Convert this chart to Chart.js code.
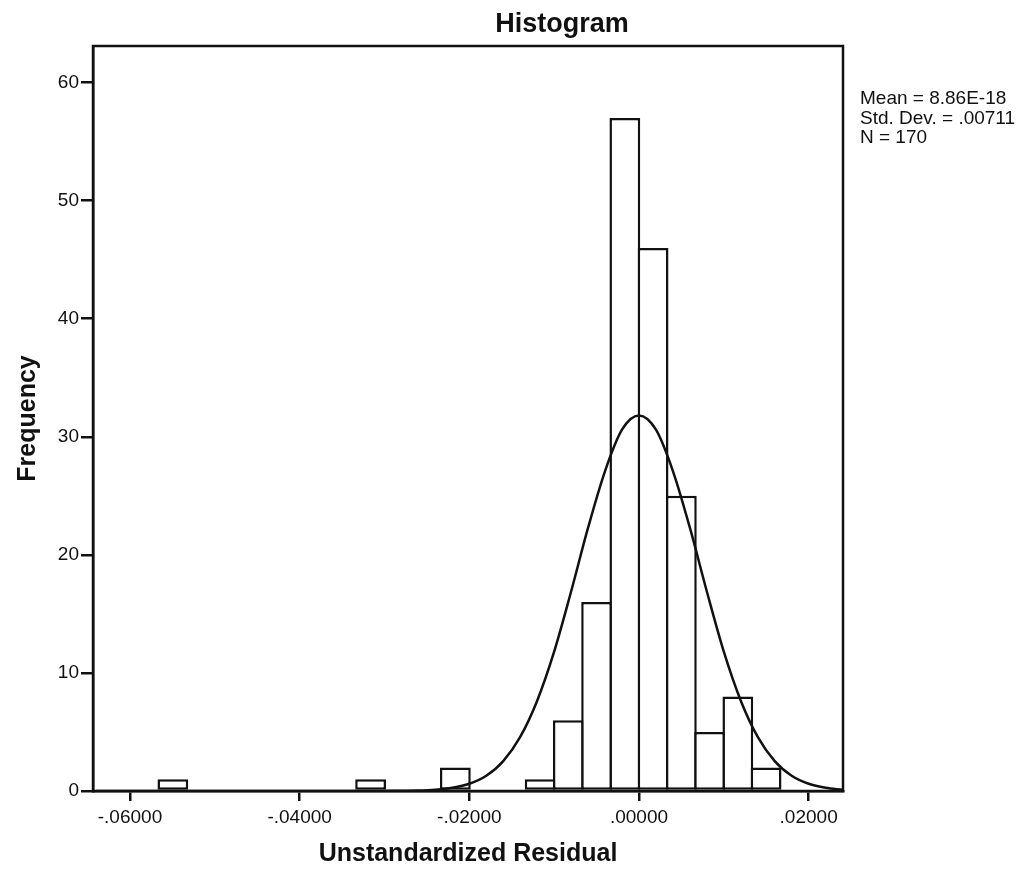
<!DOCTYPE html>
<html>
<head>
<meta charset="utf-8">
<title>Histogram</title>
<script src="https://cdn.jsdelivr.net/npm/chart.js@4.4.1/dist/chart.umd.min.js"></script>
<style>
  html, body { margin: 0; padding: 0; background: #fff; }
  canvas { display: block; }
</style>
</head>
<body>
<canvas id="histChart" width="1027" height="875"></canvas>
<script>
// datos
const binWidth = 0.00333;
const binStarts = [-0.05661, -0.03330, -0.02331, -0.01332, -0.00999, -0.00666, -0.00333, 0.00000, 0.00333, 0.00666, 0.00999, 0.01332];
const counts = [1, 1, 2, 1, 6, 16, 57, 46, 25, 5, 8, 2];

// curva normal (valores estimados de la imagen)
const curveX = [-0.064, -0.040, -0.030, -0.026, -0.024, -0.022, -0.020, -0.018, -0.016, -0.014, -0.012, -0.010, -0.008, -0.006, -0.004, -0.002, 0, 0.002, 0.004, 0.006, 0.008, 0.010, 0.012, 0.014, 0.016, 0.018, 0.020, 0.022, 0.024];
const curveY = [0, 0, 0.01, 0.04, 0.11, 0.27, 0.61, 1.29, 2.53, 4.58, 7.65, 11.8, 16.9, 22.3, 27.1, 30.6, 31.8, 30.6, 27.1, 22.3, 16.9, 11.8, 7.65, 4.58, 2.53, 1.29, 0.61, 0.27, 0.11];

const xTicks = [-0.06, -0.04, -0.02, 0, 0.02];
const yTicks = [0, 10, 20, 30, 40, 50, 60];
const statsLines = ['Mean = 8.86E-18', 'Std. Dev. = .00711', 'N = 170'];

const INK = '#111';
Chart.defaults.font.family = '"Liberation Sans", Arial, sans-serif';
Chart.defaults.color = INK;

// marco, titulo y estadisticos
const extras = {
    id: 'extras',
    afterDraw(chart) {
        const { ctx, chartArea: a } = chart;
        ctx.save();
        ctx.strokeStyle = INK;
        ctx.lineWidth = 2.5;
        ctx.strokeRect(a.left, a.top, a.right - a.left, a.bottom - a.top);

        ctx.fillStyle = INK;
        ctx.textAlign = 'center';
        ctx.textBaseline = 'middle';
        ctx.font = 'bold 27px "Liberation Sans", Arial, sans-serif';
        ctx.fillText('Histogram', 562, 25);

        ctx.textAlign = 'left';
        ctx.font = '19px "Liberation Sans", Arial, sans-serif';
        statsLines.forEach((t, i) => ctx.fillText(t, 860, 99 + i * 19.5));
        ctx.restore();
    }
};

const ctx = document.getElementById('histChart').getContext('2d');

new Chart(ctx, {
    type: 'bar',
    data: {
        datasets: [
            {
                type: 'line',
                data: curveX.map((x, i) => ({ x: x, y: curveY[i] })),
                borderColor: INK,
                borderWidth: 2.5,
                pointRadius: 0,
                fill: false,
                cubicInterpolationMode: 'monotone',
                order: 0
            },
            {
                type: 'bar',
                data: binStarts.map((s, i) => ({ x: s + binWidth / 2, y: counts[i] })),
                backgroundColor: '#fff',
                borderColor: INK,
                borderWidth: 2.5,
                borderSkipped: false,
                // un poco mas ancho para que las barras vecinas compartan borde
                barPercentage: 1.09,
                categoryPercentage: 1,
                order: 1
            }
        ]
    },
    options: {
        responsive: false,
        animation: false,
        layout: { padding: { left: 0, right: 184, top: 46, bottom: 0 } },
        plugins: {
            legend: { display: false },
            tooltip: { enabled: false }
        },
        scales: {
            x: {
                type: 'linear',
                offset: false,
                min: -0.06436,
                max: 0.02405,
                afterBuildTicks: (scale) => { scale.ticks = xTicks.map(v => ({ value: v })); },
                afterFit: (scale) => { scale.height = 84; },
                grid: { display: true, drawOnChartArea: false, drawTicks: true, tickLength: 10, color: INK, lineWidth: 2.5, offset: false },
                border: { display: true, color: INK, width: 2.5 },
                ticks: {
                    padding: 5,
                    maxRotation: 0,
                    font: { size: 19 },
                    callback: (v) => v.toFixed(5).replace('0.', '.')
                },
                title: {
                    display: true,
                    text: 'Unstandardized Residual',
                    font: { size: 25, weight: 'bold' },
                    padding: { top: 0, bottom: 6 }
                }
            },
            y: {
                min: 0,
                max: 63.1,
                afterBuildTicks: (scale) => { scale.ticks = yTicks.map(v => ({ value: v })); },
                afterFit: (scale) => { scale.width = 93; },
                grid: { display: true, drawOnChartArea: false, drawTicks: true, tickLength: 12, color: INK, lineWidth: 2.5 },
                border: { display: true, color: INK, width: 2.5 },
                ticks: { padding: 2, font: { size: 19 } },
                title: {
                    display: true,
                    text: 'Frequency',
                    font: { size: 25, weight: 'bold' },
                    padding: { top: 13, bottom: 0 }
                }
            }
        }
    },
    plugins: [extras]
});
</script>
</body>
</html>
